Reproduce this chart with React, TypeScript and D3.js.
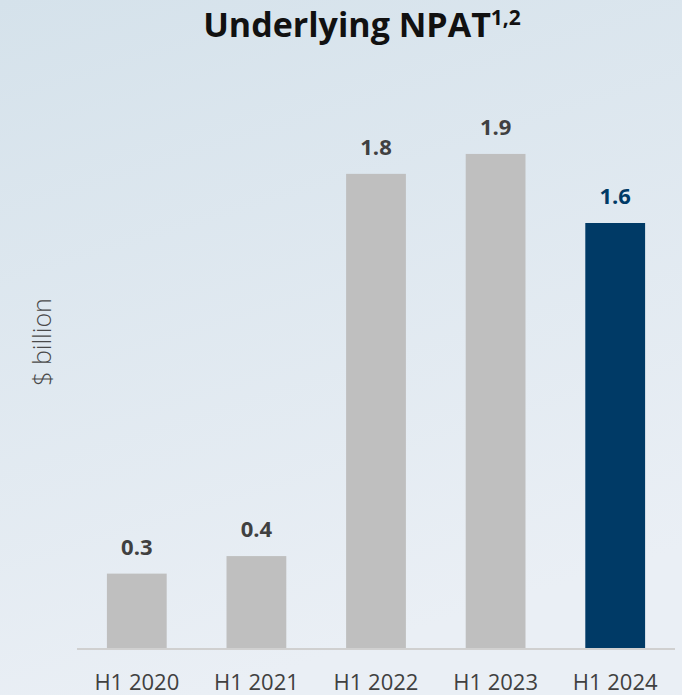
import React from "react";
import * as d3 from "d3";

const categories = ["H1 2020", "H1 2021", "H1 2022", "H1 2023", "H1 2024"];
const values = [0.28, 0.346, 1.785, 1.86, 1.6];
const valueLabels = ["0.3", "0.4", "1.8", "1.9", "1.6"];
const highlight = [false, false, false, false, true];

const W = 682;
const H = 695;

export default function App() {
  const x = d3.scaleBand<string>().domain(categories).range([77, 675]).paddingInner(0.5).paddingOuter(0.25);
  const y = d3.scaleLinear().domain([0, 1.6]).range([648, 223]);
  const font = "'Open Sans', 'Noto Sans', sans-serif";
  return (
    <svg width={W} height={H} style={{ position: "absolute", left: 0, top: 0 }} fontFamily={font}>
      <defs>
        <linearGradient id="bg" x1="0" y1="0" x2="0.3" y2="1">
          <stop offset="0" stopColor="#d5e2eb" />
          <stop offset="1" stopColor="#eaeff5" />
        </linearGradient>
      </defs>
      <rect width={W} height={H} fill="url(#bg)" />
      <text x={362} y={37} textAnchor="middle" fontSize={34} fontWeight={700} fill="#111">
        Underlying NPAT<tspan fontSize={21} dy={-12}>1,2</tspan>
      </text>
      <text transform="translate(51,342) rotate(-90)" textAnchor="middle" fontSize={25} fontWeight={300} fill="#4a4a4a">
        $ billion
      </text>
      {categories.map((c, i) => (
        <g key={c}>
          <rect x={x(c)} y={y(values[i])} width={x.bandwidth()} height={y(0) - y(values[i])} fill={highlight[i] ? "#003a66" : "#bfbfbf"} />
          <text x={(x(c) as number) + x.bandwidth() / 2} y={y(values[i]) - 19} textAnchor="middle" fontSize={22} fontWeight={700} fill={highlight[i] ? "#003a66" : "#404040"}>
            {valueLabels[i]}
          </text>
          <text x={(x(c) as number) + x.bandwidth() / 2} y={690} textAnchor="middle" fontSize={22} fill="#404040">
            {c}
          </text>
        </g>
      ))}
      <line x1={77} x2={675} y1={649} y2={649} stroke="#d0d0d0" strokeWidth={2} />
    </svg>
  );
}
